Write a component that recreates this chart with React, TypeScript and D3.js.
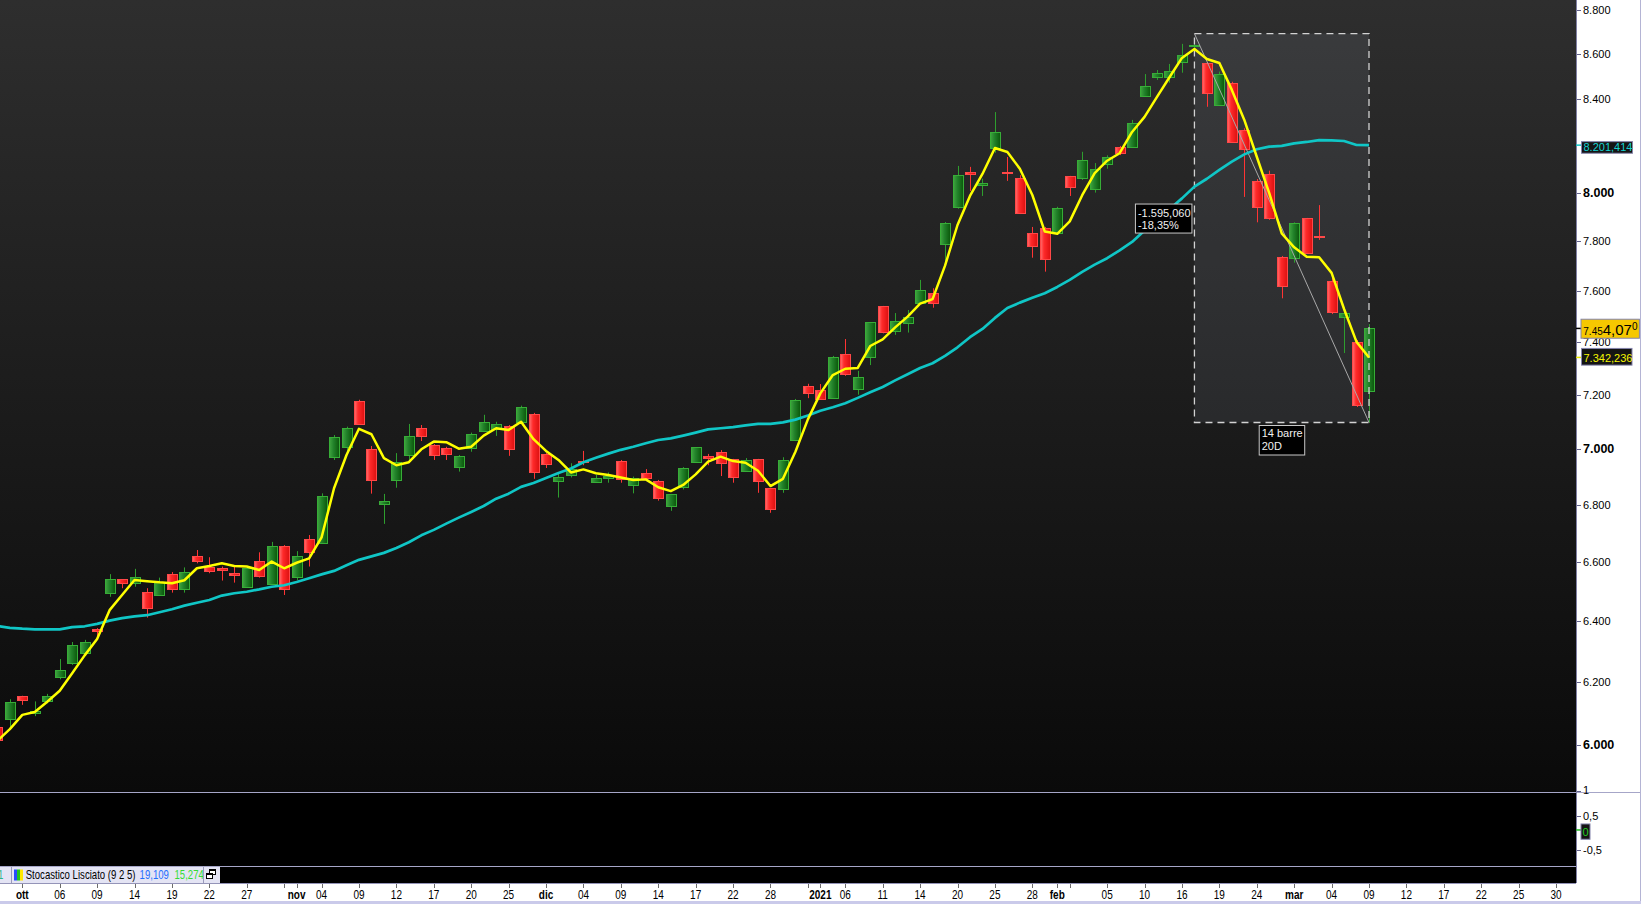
import React from "react";
import * as d3 from "d3";

// ---------- DATA ----------
const dates: string[] = [
  "2020-09-29","2020-09-30",
  "2020-10-01","2020-10-02","2020-10-05","2020-10-06","2020-10-07","2020-10-08","2020-10-09","2020-10-12","2020-10-13","2020-10-14","2020-10-15","2020-10-16","2020-10-19","2020-10-20","2020-10-21","2020-10-22","2020-10-23","2020-10-26","2020-10-27","2020-10-28","2020-10-29","2020-10-30",
  "2020-11-02","2020-11-03","2020-11-04","2020-11-05","2020-11-06","2020-11-09","2020-11-10","2020-11-11","2020-11-12","2020-11-13","2020-11-16","2020-11-17","2020-11-18","2020-11-19","2020-11-20","2020-11-23","2020-11-24","2020-11-25","2020-11-27","2020-11-30",
  "2020-12-01","2020-12-02","2020-12-03","2020-12-04","2020-12-07","2020-12-08","2020-12-09","2020-12-10","2020-12-11","2020-12-14","2020-12-15","2020-12-16","2020-12-17","2020-12-18","2020-12-21","2020-12-22","2020-12-23","2020-12-24","2020-12-28","2020-12-29","2020-12-30","2020-12-31",
  "2021-01-04","2021-01-05","2021-01-06","2021-01-07","2021-01-08","2021-01-11","2021-01-12","2021-01-13","2021-01-14","2021-01-15","2021-01-19","2021-01-20","2021-01-21","2021-01-22","2021-01-25","2021-01-26","2021-01-27","2021-01-28","2021-01-29",
  "2021-02-01","2021-02-02","2021-02-03","2021-02-04","2021-02-05","2021-02-08","2021-02-09","2021-02-10","2021-02-11","2021-02-12","2021-02-16","2021-02-17","2021-02-18","2021-02-19","2021-02-22","2021-02-23","2021-02-24","2021-02-25","2021-02-26",
  "2021-03-01","2021-03-02","2021-03-03","2021-03-04","2021-03-05","2021-03-08","2021-03-09",
];
const futureDates: string[] = [
  "2021-03-10","2021-03-11","2021-03-12","2021-03-15","2021-03-16","2021-03-17","2021-03-18","2021-03-19",
  "2021-03-22","2021-03-23","2021-03-24","2021-03-25","2021-03-26","2021-03-29","2021-03-30","2021-03-31",
];

const open: number[] = [
  6055, 6080,
  6153, 6099, 6139, 6215, 6260, 6293, 6373, 6493, 6540, 6527, 6496, 6488, 6557, 6508, 6619, 6581, 6578, 6562, 6515, 6602, 6525, 6655,
  6548, 6678, 6666, 6970, 7006, 7177, 7000, 6801, 6887, 6979, 7076, 7014, 7004, 6936, 7005, 7066, 7073, 7084, 7100, 7129,
  6982, 6885, 6907, 6957, 6882, 6896, 6956, 6869, 6912, 6883, 6794, 6864, 6952, 6973, 6989, 6962, 6919, 6962, 6858, 6854, 7033, 7234,
  7218, 7188, 7354, 7221, 7343, 7541, 7443, 7474, 7555, 7592, 7788, 7942, 8087, 8034, 8190, 8089, 8062, 7833, 7855,
  7833, 8069, 8063, 8017, 8120, 8192, 8193, 8414, 8497, 8499, 8566, 8635, 8562, 8376, 8470, 8266, 8050, 8079, 7737,
  7732, 7895, 7823, 7641, 7499, 7402, 7213,
];
const high: number[] = [
  6062, 6144,
  6155, 6137, 6161, 6274, 6330, 6337, 6376, 6558, 6541, 6576, 6510, 6546, 6565, 6581, 6641, 6616, 6584, 6584, 6586, 6633, 6669, 6658,
  6637, 6693, 6840, 7051, 7082, 7182, 7011, 6838, 6985, 7092, 7088, 7018, 7008, 6978, 7060, 7126, 7100, 7088, 7160, 7133,
  6985, 6912, 6948, 6993, 6906, 6915, 6960, 6900, 6927, 6888, 6838, 6934, 7007, 6982, 6996, 6964, 6967, 6964, 6859, 6970, 7185, 7242,
  7241, 7348, 7413, 7291, 7479, 7542, 7514, 7526, 7645, 7612, 7879, 8113, 8109, 8059, 8344, 8151, 8074, 7859, 7859,
  7942, 8071, 8173, 8125, 8158, 8198, 8310, 8511, 8529, 8556, 8646, 8660, 8565, 8522, 8477, 8274, 8058, 8093, 7741,
  7878, 7896, 7949, 7653, 7522, 7409, 7471,
];
const low: number[] = [
  6008, 6056,
  6126, 6090, 6131, 6208, 6255, 6287, 6348, 6481, 6510, 6515, 6411, 6487, 6495, 6495, 6595, 6561, 6536, 6529, 6512, 6546, 6524, 6487,
  6538, 6584, 6662, 6960, 6990, 7088, 6839, 6732, 6860, 6960, 7029, 6960, 6960, 6918, 6990, 7062, 7048, 6975, 7099, 6892,
  6931, 6825, 6897, 6941, 6878, 6878, 6878, 6840, 6895, 6814, 6778, 6854, 6949, 6941, 6902, 6878, 6917, 6842, 6771, 6842, 7029, 7188,
  7185, 7185, 7272, 7201, 7313, 7435, 7429, 7438, 7554, 7535, 7712, 7934, 8008, 7987, 8169, 8050, 7912, 7734, 7678,
  7830, 7987, 8054, 8001, 8101, 8159, 8189, 8410, 8485, 8473, 8517, 8627, 8367, 8371, 8215, 7983, 7878, 7888, 7572,
  7714, 7753, 7806, 7510, 7359, 7155, 7097.34,
];
const close: number[] = [
  6015, 6134,
  6140, 6105, 6153, 6237, 6319, 6329, 6367, 6540, 6527, 6547, 6444, 6530, 6508, 6564, 6604, 6570, 6573, 6556, 6580, 6553, 6655, 6506,
  6620, 6635, 6831, 7043, 7076, 7091, 6887, 6812, 6952, 7047, 7049, 6979, 6983, 6973, 7055, 7098, 7092, 7001, 7154, 6918,
  6947, 6899, 6928, 6954, 6894, 6903, 6890, 6894, 6896, 6822, 6837, 6930, 7006, 6967, 6950, 6900, 6959, 6883, 6783, 6959, 7180, 7209,
  7186, 7343, 7278, 7267, 7478, 7441, 7482, 7497, 7604, 7552, 7874, 8074, 8078, 8040, 8257, 8082, 7918, 7783, 7730,
  7935, 8026, 8137, 8099, 8150, 8167, 8297, 8458, 8514, 8523, 8595, 8641, 8426, 8511, 8216, 8184, 7940, 7895, 7622,
  7874, 7754, 7819, 7518, 7514, 7162, 7454.07,
];
// yellow average
const maFast: number[] = [
  6012, 6049,
  6094, 6103, 6136, 6171, 6228, 6286, 6340, 6436, 6487, 6538, 6534, 6530, 6527, 6537, 6578, 6586, 6595, 6586, 6584, 6572, 6601, 6578,
  6597, 6612, 6685, 6858, 6978, 7074, 7054, 6967, 6941, 6952, 6999, 7027, 7025, 7001, 7008, 7049, 7076, 7070, 7100, 7036,
  6993, 6960, 6915, 6926, 6912, 6906, 6897, 6888, 6890, 6862, 6848, 6870, 6908, 6954, 6972, 6956, 6950, 6921, 6866, 6892, 6990, 7109,
  7206, 7275, 7299, 7302, 7386, 7412, 7458, 7500, 7551, 7569, 7702, 7867, 7987, 8079, 8189, 8172, 8101, 7991, 7840,
  7831, 7882, 7990, 8083, 8135, 8167, 8258, 8323, 8410, 8497, 8583, 8623, 8578, 8560, 8441, 8310, 8152, 7999, 7833,
  7776, 7738, 7736, 7673, 7530, 7402, 7342.236,
];
// cyan average
const maSlow: number[] = [
  6383, 6377,
  6374, 6372, 6372, 6372, 6379, 6382, 6390, 6401, 6409, 6415, 6419, 6429, 6439, 6451, 6461, 6470, 6485, 6493, 6498, 6506, 6515, 6520,
  6531, 6544, 6557, 6569, 6588, 6607, 6619, 6631, 6648, 6668, 6692, 6711, 6733, 6754, 6774, 6795, 6821, 6839, 6863, 6877,
  6895, 6913, 6929, 6952, 6968, 6983, 6997, 7008, 7021, 7033, 7039, 7049, 7060, 7072, 7076, 7080, 7087, 7092, 7092, 7098, 7108, 7123,
  7141, 7154, 7169, 7189, 7210, 7230, 7255, 7278, 7302, 7320, 7348, 7381, 7420, 7452, 7495, 7534, 7555, 7574, 7592,
  7617, 7645, 7677, 7706, 7732, 7764, 7798, 7844, 7888, 7932, 7977, 8026, 8059, 8096, 8131, 8162, 8184, 8195, 8198,
  8209, 8215, 8223, 8222, 8219, 8202, 8201.414,
];

// 8.200 is hidden under the average's value box in the reference, so it is not listed
const yTicks: number[] = [6000, 6200, 6400, 6600, 6800, 7000, 7200, 7400, 7600, 7800, 8000, 8400, 8600, 8800];

const xTickDates: string[] = [
  "2020-10-01","2020-10-06","2020-10-09","2020-10-14","2020-10-19","2020-10-22","2020-10-27","2020-10-30",
  "2020-11-02","2020-11-04","2020-11-09","2020-11-12","2020-11-17","2020-11-20","2020-11-25",
  "2020-12-01","2020-12-04","2020-12-09","2020-12-14","2020-12-17","2020-12-22","2020-12-28","2020-12-31",
  "2021-01-04","2021-01-06","2021-01-11","2021-01-14","2021-01-20","2021-01-25","2021-01-28",
  "2021-02-01","2021-02-02","2021-02-05","2021-02-10","2021-02-16","2021-02-19","2021-02-24",
  "2021-03-01","2021-03-04","2021-03-09","2021-03-12","2021-03-17","2021-03-22","2021-03-25","2021-03-30",
];
const xTickLabels: string[] = [
  "ott","06","09","14","19","22","27","",
  "nov","04","09","12","17","20","25",
  "dic","04","09","14","17","22","28","",
  "2021","06","11","14","20","25","28",
  "feb","","05","10","16","19","24",
  "mar","04","09","12","17","22","25","30",
];

const lowerTicks: number[] = [1, 0.5, -0.5];
const lowerLabelNudge: Record<number, number> = { 0.5: 6 };
const lowerValue = 0;

const measureFrom = { date: "2021-02-17", price: 8692.4 };
const measureTo = { date: "2021-03-09", price: 7097.34 };

const legendName = "Stocastico Lisciato (9 2 5)";
const legendValues: number[] = [19.109, 15.274];

// ---------- LAYOUT ----------
const W = 1641, H = 904;
const PR = 1576;      // plot right
const MAIN_B = 792;   // main panel bottom
const LOW_B = 867;    // lower panel bottom
const LEG_B = 883;    // legend row bottom

export default function App() {
  const allDates = dates.concat(futureDates);
  const idx = new Map<string, number>(allDates.map((d, i) => [d, i]));

  const x = d3.scaleLinear().domain([2, 110]).range([22.3, 1369]);
  const y = d3.scaleLog().domain([6000, 8800]).range([744.7, 10]);
  const yLow = d3.scaleLinear().domain([-0.5, 1]).range([849.7, 790.5]);

  const loc = d3.formatLocale({ decimal: ",", thousands: ".", grouping: [3], currency: ["€", ""], minus: "-" } as any);
  const fmt0 = loc.format(",.0f");
  const fmt2 = loc.format(",.2f");
  const fmt3 = loc.format(",.3f");
  const fmtLow = (v: number) => String(v).replace(".", ",");

  const n = Math.min(dates.length, open.length, high.length, low.length, close.length);

  const candles = d3.range(n).map((k) => {
    const o = open[k], h = high[k], l = low[k], c = close[k];
    const up = c >= o;
    const cx = Math.round(x(k)) + 0.5;
    const yt = Math.round(y(Math.max(o, c))) + 0.5;
    const yb = Math.round(y(Math.min(o, c))) + 0.5;
    const bh = Math.max(1, yb - yt);
    return (
      <g key={k}>
        <line x1={cx} x2={cx} y1={y(h)} y2={y(l)} stroke={up ? "#2e9e2e" : "#ff3434"} strokeWidth={1} />
        <rect x={cx - 5} y={yt} width={10} height={bh}
          fill={up ? "url(#gUp)" : "url(#gDn)"} stroke={up ? "#37ad37" : "#ff4848"} strokeWidth={1} />
      </g>
    );
  });

  const lineOf = (arr: number[]) =>
    d3.line<number>().x((_, k) => x(k)).y((v) => y(v)).curve(d3.curveLinear)(arr.slice(0, n)) || "";

  // measure
  const mi0 = idx.get(measureFrom.date)!;
  const mi1 = idx.get(measureTo.date)!;
  const mx0 = x(mi0), mx1 = x(mi1);
  const my0 = y(measureFrom.price), my1 = y(measureTo.price);
  const diff = measureTo.price - measureFrom.price;
  const pct = (diff / measureFrom.price) * 100;
  const bars = mi1 - mi0;
  const days = Math.round((+new Date(measureTo.date) - +new Date(measureFrom.date)) / 86400000);

  const lastClose = close[n - 1];
  const lastFast = maFast[n - 1];
  const lastSlow = maSlow[n - 1];
  const lastStr = fmt3(lastClose);
  const yLast = y(lastClose), yFast = y(lastFast), ySlow = y(lastSlow);
  const y0Low = yLow(lowerValue);

  const narrow = (cx: number, cy: number) => `translate(${cx},${cy}) scale(0.8,1)`;

  return (
    <svg width={W} height={H} viewBox={`0 0 ${W} ${H}`}
      style={{ position: "fixed", left: 0, top: 0, display: "block", background: "#fff" }}
      fontFamily="'Liberation Sans', Arial, Helvetica, sans-serif">
      <defs>
        <linearGradient id="bg" x1="0" y1="0" x2="0" y2={MAIN_B} gradientUnits="userSpaceOnUse">
          <stop offset="0" stopColor="#2e2e2e" />
          <stop offset="1" stopColor="#0a0a0a" />
        </linearGradient>
        <linearGradient id="gUp" x1="0" y1="0" x2="1" y2="0">
          <stop offset="0" stopColor="#3fa33f" />
          <stop offset="0.4" stopColor="#22822a" />
          <stop offset="1" stopColor="#0a560a" />
        </linearGradient>
        <linearGradient id="gDn" x1="0" y1="0" x2="1" y2="0">
          <stop offset="0" stopColor="#ff7070" />
          <stop offset="0.35" stopColor="#ff2a2a" />
          <stop offset="1" stopColor="#dc1010" />
        </linearGradient>
        <clipPath id="mainClip">
          <rect x={0} y={0} width={PR} height={MAIN_B} />
        </clipPath>
      </defs>

      {/* panels */}
      <rect x={0} y={0} width={PR} height={MAIN_B} fill="url(#bg)" />
      <rect x={0} y={MAIN_B} width={PR} height={LEG_B - MAIN_B} fill="#000" />
      <rect x={PR} y={0} width={W - PR} height={LEG_B} fill="#fff" />
      <rect x={0} y={LEG_B} width={W} height={H - LEG_B} fill="#fff" />

      {/* main panel content */}
      <g clipPath="url(#mainClip)">
        <rect x={mx0} y={my0} width={mx1 - mx0} height={my1 - my0} fill="rgba(200,205,235,0.085)" />
        {candles}
        <line x1={mx0} y1={my0} x2={mx1} y2={my1} stroke="#a9a9a9" strokeWidth={1} />
        <rect x={mx0} y={my0} width={mx1 - mx0} height={my1 - my0} fill="none"
          stroke="#d2d2d2" strokeWidth={1.3} strokeDasharray="7,5" />
        <path d={lineOf(maSlow)} fill="none" stroke="#10c6c6" strokeWidth={2.7} strokeLinejoin="round" />
        <path d={lineOf(maFast)} fill="none" stroke="#ffff00" strokeWidth={2.5} strokeLinejoin="round" />

        {/* measure labels */}
        <g>
          <rect x={mx0 - 59} y={(my0 + my1) / 2 - 24} width={56.5} height={29} fill="#000" stroke="#c8c8c8" strokeWidth={1} />
          <text x={mx0 - 56.5} y={(my0 + my1) / 2 - 11.5} fontSize={11} fill="#f0f0f0">{fmt3(diff)}</text>
          <text x={mx0 - 56.5} y={(my0 + my1) / 2 + 1} fontSize={11} fill="#f0f0f0">{fmt2(pct) + "%"}</text>
        </g>
        <g>
          <rect x={(mx0 + mx1) / 2 - 22.5} y={my1 + 3} width={45.5} height={29.5} fill="#000" stroke="#c8c8c8" strokeWidth={1} />
          <text x={(mx0 + mx1) / 2 - 20} y={my1 + 15} fontSize={11} fill="#f0f0f0">{`${bars} barre`}</text>
          <text x={(mx0 + mx1) / 2 - 20} y={my1 + 27.5} fontSize={11} fill="#f0f0f0">{`${days}D`}</text>
        </g>
      </g>

      {/* separators */}
      <line x1={0} x2={W} y1={MAIN_B + 0.5} y2={MAIN_B + 0.5} stroke="#a6a6c8" strokeWidth={1} />
      <line x1={0} x2={PR} y1={LOW_B - 0.5} y2={LOW_B - 0.5} stroke="#a6a6c8" strokeWidth={1} />
      <line x1={0} x2={PR} y1={LEG_B + 0.5} y2={LEG_B + 0.5} stroke="#9494b8" strokeWidth={1} />
      <line x1={PR + 0.5} x2={PR + 0.5} y1={0} y2={LEG_B} stroke="#8080a4" strokeWidth={1} />
      <line x1={W - 0.5} x2={W - 0.5} y1={0} y2={H} stroke="#b4b4d4" strokeWidth={1} />
      <rect x={0} y={901} width={W} height={3} fill="#cacaea" />

      {/* y axis */}
      {yTicks.map((t) => {
        const yy = y(t);
        const bold = t % 1000 === 0;
        return (
          <g key={t}>
            <line x1={PR + 1} x2={PR + 5} y1={Math.round(yy) + 0.5} y2={Math.round(yy) + 0.5} stroke="#62628a" strokeWidth={1} />
            <text x={PR + 7} y={yy} dy="0.36em" fontSize={bold ? 12.5 : 11} fontWeight={bold ? "bold" : "normal"} fill="#000">
              {fmt0(t)}
            </text>
          </g>
        );
      })}

      {/* cyan average label */}
      <line x1={PR} x2={PR + 5} y1={ySlow} y2={ySlow} stroke="#10c6c6" strokeWidth={1.5} />
      <rect x={PR + 5.5} y={ySlow - 3.5} width={51} height={11.6} fill="#141414" stroke="#8484ac" strokeWidth={1} />
      <text x={PR + 7.5} y={ySlow + 5.6} fontSize={11} fill="#14d0d0">{fmt3(lastSlow)}</text>

      {/* last price label */}
      <line x1={PR} x2={PR + 5} y1={yLast} y2={yLast} stroke="#000" strokeWidth={1.5} />
      <rect x={PR + 5} y={yLast - 9.2} width={58.4} height={19} fill="#f6c800" stroke="#8484ac" strokeWidth={1} />
      <text x={PR + 7.3} y={yLast + 6.5} fill="#000">
        <tspan fontSize={10}>{lastStr.slice(0, 4)}</tspan>
        <tspan fontSize={15}>{lastStr.slice(4, 8)}</tspan>
        <tspan fontSize={10} dy={-5}>{lastStr.slice(8)}</tspan>
      </text>

      {/* yellow average label */}
      <line x1={PR} x2={PR + 5} y1={yFast} y2={yFast} stroke="#e8e800" strokeWidth={1.5} />
      <rect x={PR + 5.5} y={yFast - 9} width={50.5} height={16.7} fill="#141414" stroke="#8484ac" strokeWidth={1} />
      <text x={PR + 7.5} y={yFast + 5} fontSize={11} fill="#f4f400">{fmt3(lastFast)}</text>

      {/* lower panel axis */}
      {lowerTicks.map((t) => {
        const yy = yLow(t) + (lowerLabelNudge[t] || 0);
        return (
          <g key={t}>
            <line x1={PR + 1} x2={PR + 5} y1={Math.round(yy) + 0.5} y2={Math.round(yy) + 0.5} stroke="#62628a" strokeWidth={1} />
            <text x={PR + 7} y={yy} dy="0.36em" fontSize={11} fill="#000">{fmtLow(t)}</text>
          </g>
        );
      })}
      <line x1={PR} x2={PR + 5} y1={y0Low} y2={y0Low} stroke="#22bb22" strokeWidth={1.5} />
      <rect x={PR + 5} y={y0Low - 6} width={9} height={15.3} fill="#141414" stroke="#8484ac" strokeWidth={1} />
      <text x={PR + 6.5} y={y0Low + 6.5} fontSize={11} fill="#22cc22">{fmtLow(lowerValue)}</text>

      {/* legend row */}
      <rect x={0} y={LOW_B} width={220} height={LEG_B - LOW_B} fill="#e4e4f4" />
      <text transform={narrow(-2, 879)} fontSize={12} fill="#2bb58a">1</text>
      <line x1={11.5} x2={11.5} y1={LOW_B} y2={LEG_B} stroke="#9a9abc" />
      <rect x={14} y={869.5} width={3} height={11} fill="#2a4cff" />
      <rect x={17} y={869.5} width={3} height={11} fill="#22c422" />
      <rect x={20} y={869.5} width={3} height={11} fill="#ffe800" />
      <text transform="translate(25.7,879) scale(0.8,1)" fontSize={12} fill="#000" xmlSpace="preserve">
        <tspan>{legendName}</tspan>
        <tspan fill="#1f6fff" dx={5}>{loc.format(",.3f")(legendValues[0])}</tspan>
        <tspan fill="#33dd33" dx={7}>{loc.format(",.3f")(legendValues[1])}</tspan>
      </text>
      <line x1={203.5} x2={203.5} y1={LOW_B} y2={LEG_B} stroke="#9a9abc" />
      <rect x={209.5} y={869.5} width={6} height={5} fill="#fff" stroke="#000" strokeWidth={1} />
      <rect x={209.5} y={869.5} width={6} height={1.5} fill="#000" />
      <rect x={206.5} y={873.5} width={6} height={5} fill="#fff" stroke="#000" strokeWidth={1} />
      <rect x={206.5} y={873.5} width={6} height={1.5} fill="#000" />

      {/* x axis */}
      {xTickDates.map((d, j) => {
        const k = idx.get(d);
        if (k === undefined) return null;
        const cx = Math.round(x(k)) + 0.5;
        const lab = xTickLabels[j];
        const bold = lab !== "" && !/^\d\d$/.test(lab);
        return (
          <g key={d}>
            <line x1={cx} x2={cx} y1={LEG_B + 1} y2={LEG_B + 5} stroke="#6c6c6c" strokeWidth={1} />
            {lab && (
              <text transform={narrow(x(k), 898.5)} textAnchor="middle" fontSize={12.5}
                fontWeight={bold ? "bold" : "normal"} fill="#000">{lab}</text>
            )}
          </g>
        );
      })}
    </svg>
  );
}
